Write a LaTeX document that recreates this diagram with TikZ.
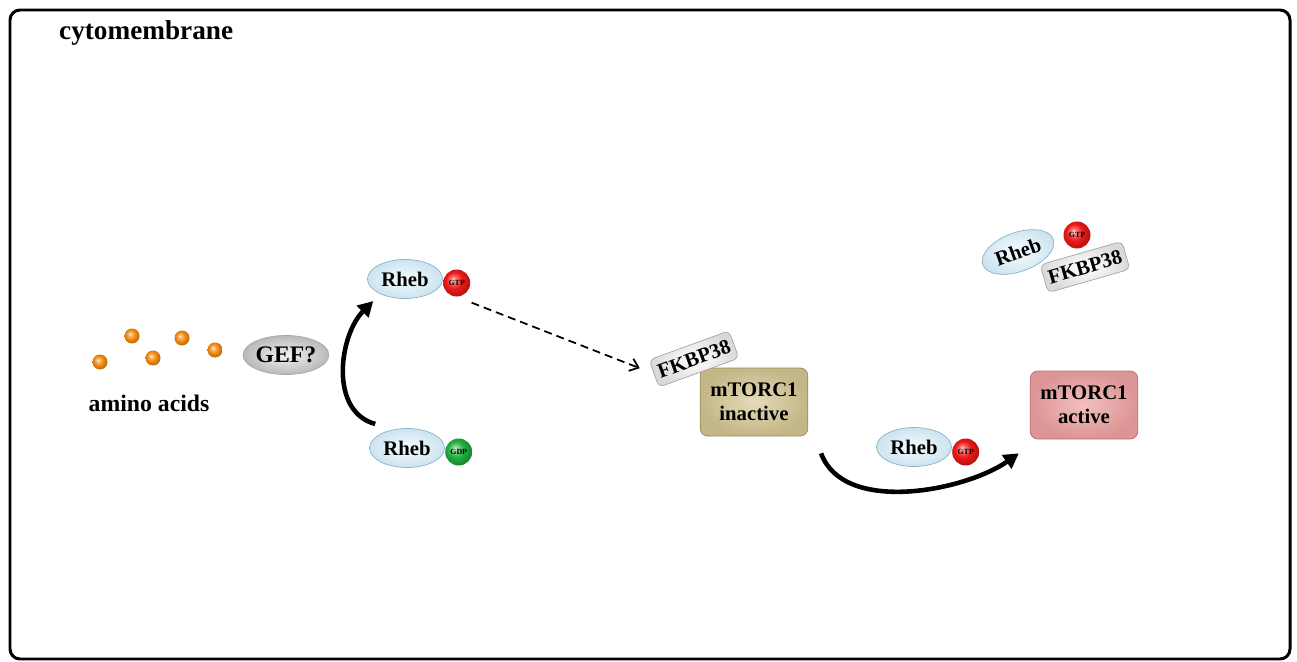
\documentclass[tikz,border=0pt]{standalone}
\usepackage{fontspec}
\setmainfont{Liberation Serif}
\usetikzlibrary{arrows.meta,positioning,shapes.geometric,calc}

\definecolor{rhebin}{HTML}{F6FBFE}
\definecolor{rhebout}{HTML}{CBE4F0}
\definecolor{rhebedge}{HTML}{8DB2C6}
\definecolor{inactin}{HTML}{E4DBB9}
\definecolor{inactout}{HTML}{C3B687}
\definecolor{inactedge}{HTML}{9A8D5C}
\definecolor{actin}{HTML}{F3C0C0}
\definecolor{actout}{HTML}{DC9494}
\definecolor{actedge}{HTML}{B57474}
\definecolor{aacol}{HTML}{F58A10}
\definecolor{gtpcol}{HTML}{F01818}
\definecolor{gdpcol}{HTML}{20B040}
\colorlet{sphcol}{red}

\pgfdeclareradialshading[sphcol]{sphere}{\pgfqpoint{-7bp}{7bp}}{color(0bp)=(sphcol!10!white);
  color(5bp)=(sphcol!55!white); color(15bp)=(sphcol); color(25bp)=(sphcol!80!black);
  color(50bp)=(sphcol!60!black)}

\begin{document}
\begin{tikzpicture}[x=0.2mm, y=0.2mm, font=\bfseries,
  sph/.style={shading=sphere, /utils/exec={\colorlet{sphcol}{#1}}},
  rheb/.style={ellipse, draw=rhebedge, inner color=rhebin, outer color=rhebout,
    minimum width=15mm, minimum height=7.8mm, inner sep=0pt,
    font=\fontsize{11.8}{12}\selectfont\bfseries},
  gtp/.style={circle, sph=gtpcol, minimum size=5.4mm, inner sep=0pt,
    font=\fontsize{4.5}{5}\selectfont\bfseries},
  gdp/.style={gtp, sph=gdpcol},
  acid/.style={circle, sph=aacol, minimum size=3mm, inner sep=0pt},
  fkbp/.style={draw=gray!70, rounded corners=1mm, inner color=white, outer color=gray!30,
    minimum width=17mm, minimum height=5.8mm, inner sep=0pt,
    font=\fontsize{11.8}{12}\selectfont\bfseries},
  mtor/.style={draw, rounded corners=1.5mm, minimum width=21.5mm, minimum height=13.6mm,
    align=center, font=\fontsize{11.8}{13.5}\selectfont\bfseries},
  cyc/.style={line width=2.6pt, -{Triangle[length=3mm,width=3.2mm]}},
  dsh/.style={line width=1pt, dash pattern=on 1.6mm off 1mm, -{Straight Barb[length=1.6mm,width=2.6mm]}}]

\useasboundingbox (0,0) rectangle (1297,-662);
\draw[line width=1.7pt, rounded corners=2mm] (10,-10) rectangle (1290,-659);

\node[anchor=west, font=\fontsize{15.5}{16}\selectfont\bfseries] (memb) at (53,-33) {cytomembrane};

\foreach \x/\y [count=\i] in {100/362,132/336,153/358,182/338,215/350}
  \node[acid] (aa\i) at (\x,-\y) {};
\node[font=\fontsize{13.5}{14}\selectfont\bfseries] (aalab) at (149,-403) {amino acids};

\node[ellipse, draw=gray!70, inner color=gray!10, outer color=gray!55, minimum width=16.4mm,
  minimum height=7.8mm, inner sep=0pt, font=\fontsize{13.5}{14}\selectfont\bfseries] (gef) at (286,-355) {GEF?};

\node[rheb] (rhebt) at (405,-279) {Rheb};
\node[gtp, right=0mm of rhebt, yshift=-0.8mm] (gtpt) {GTP};
\node[rheb] (rhebd) at (407,-448) {Rheb};
\node[gdp, right=0mm of rhebd, yshift=-0.8mm] (gdpd) {GDP};

\node[mtor, draw=inactedge, inner color=inactin, outer color=inactout] (inact) at (754,-402) {mTORC1\\inactive};
\node[fkbp, rotate=20] (fkbpm) at (694,-359) {FKBP38};

\node[rheb] (rhebm) at (914,-447) {Rheb};
\node[gtp, right=0mm of rhebm, yshift=-1mm] (gtpm) {GTP};

\node[mtor, draw=actedge, inner color=actin, outer color=actout] (act) at (1084,-405) {mTORC1\\active};

\node[rheb, rotate=20] (rhebf) at (1018,-252) {Rheb};
\node[gtp] (gtpf) at (1077,-235) {GTP};
\node[fkbp, rotate=16] (fkbpf) at (1085,-267) {FKBP38};

\draw[cyc] ([shift={(-5,10)}]rhebd.north west) to[out=165, in=225] ([shift={(-5,-8)}]rhebt.south west);
\draw[dsh, shorten <=3.2mm, shorten >=3mm] (gtpt.south) -- (fkbpm.west);
\draw[cyc] ([shift={(13,-17)}]inact.south east) to[out=-70, in=215, looseness=0.85] ([shift={(-11,-14)}]act.south west);

\end{tikzpicture}
\end{document}
